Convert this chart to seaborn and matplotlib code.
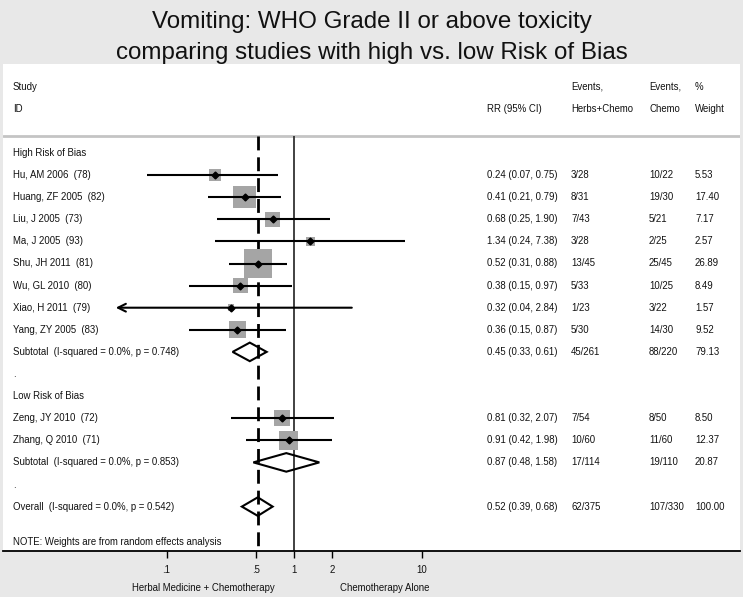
import matplotlib
matplotlib.use("Agg")
import matplotlib.pyplot as plt
from matplotlib.patches import Polygon, FancyArrowPatch
import seaborn as sns
import numpy as np
import pandas as pd

# study-level data
studies = ["Hu, AM 2006  (78)", "Huang, ZF 2005  (82)", "Liu, J 2005  (73)", "Ma, J 2005  (93)",
           "Shu, JH 2011  (81)", "Wu, GL 2010  (80)", "Xiao, H 2011  (79)", "Yang, ZY 2005  (83)",
           "Zeng, JY 2010  (72)", "Zhang, Q 2010  (71)"]
groups = ["High"] * 8 + ["Low"] * 2
rr = [0.24, 0.41, 0.68, 1.34, 0.52, 0.38, 0.32, 0.36, 0.81, 0.91]
rr_lo = [0.07, 0.21, 0.25, 0.24, 0.31, 0.15, 0.04, 0.15, 0.32, 0.42]
rr_hi = [0.75, 0.79, 1.90, 7.38, 0.88, 0.97, 2.84, 0.87, 2.07, 1.98]
events_herb = ["3/28", "8/31", "7/43", "3/28", "13/45", "5/33", "1/23", "5/30", "7/54", "10/60"]
events_chemo = ["10/22", "19/30", "5/21", "2/25", "25/45", "10/25", "3/22", "14/30", "8/50", "11/60"]
weights = [5.53, 17.40, 7.17, 2.57, 26.89, 8.49, 1.57, 9.52, 8.50, 12.37]

# pooled estimates
pooled_labels = ["Subtotal  (I-squared = 0.0%, p = 0.748)",
                 "Subtotal  (I-squared = 0.0%, p = 0.853)",
                 "Overall  (I-squared = 0.0%, p = 0.542)"]
pooled_rr = [0.45, 0.87, 0.52]
pooled_lo = [0.33, 0.48, 0.39]
pooled_hi = [0.61, 1.58, 0.68]
pooled_herb = ["45/261", "17/114", "62/375"]
pooled_chemo = ["88/220", "19/110", "107/330"]
pooled_weight = [79.13, 20.87, 100.00]

group_titles = {"High": "High Risk of Bias", "Low": "Low Risk of Bias"}
xticks = [0.1, 0.5, 1, 2, 10]
xticklabels = [".1", ".5", "1", "2", "10"]

sns.set_theme(style="white")
plt.rcParams['font.family'] = ['Liberation Sans', 'DejaVu Sans']

BG = "#e8e8e8"
W, H = 743, 597
fig = plt.figure(figsize=(W / 100, H / 100), dpi=100, facecolor=BG)

# plot region in pixels
left_px, right_px, top_px, bot_px = 3, 740, 64, 551
ax = fig.add_axes([left_px / W, (H - bot_px) / H, (right_px - left_px) / W, (bot_px - top_px) / H])
ax.set_facecolor("white")

# log axis: 1 sits at x=294px, one decade = 127.5px
def px2x(px):
    return 10 ** ((px - 294) / 127.5)

row0_px, row_step = 153, 22.1
def px2row(py):
    return (py - row0_px) / row_step

ax.set_xscale("log")
ax.set_xlim(px2x(left_px), px2x(right_px))
ax.set_ylim(px2row(bot_px), px2row(top_px))

# build row layout
study_rows = []
pooled_rows = []
text_rows = []
r = 0
for g in ["High", "Low"]:
    text_rows.append((r, group_titles[g]))
    r += 1
    for gg in groups:
        if gg == g:
            study_rows.append(r)
            r += 1
    pooled_rows.append(r)
    r += 1
    text_rows.append((r, "."))
    r += 1
pooled_rows.append(r)

df = pd.DataFrame({"study": studies, "rr": rr, "lo": rr_lo, "hi": rr_hi,
                   "weight": weights, "row": study_rows})

fs = 6.9
tc = "#111111"
col_rr, col_herb, col_chemo, col_w, col_id = px2x(487), px2x(571), px2x(649), px2x(695), px2x(13)

def cell(x, y, s):
    ax.text(x, y, s, fontsize=fs, va="center", color=tc)

# header
header_line = px2row(136)
ax.axhline(header_line, color="#c4c4c4", lw=2)
cell(col_id, -3, "Study")
cell(col_id, -2, "ID")
cell(col_rr, -2, "RR (95% CI)")
cell(col_herb, -3, "Events,")
cell(col_herb, -2, "Herbs+Chemo")
cell(col_chemo, -3, "Events,")
cell(col_chemo, -2, "Chemo")
cell(col_w, -3, "%")
cell(col_w, -2, "Weight")

# reference lines
ax.vlines(1, header_line, px2row(bot_px), color="#333333", lw=1.3)
ax.vlines(pooled_rr[2], header_line, px2row(bot_px), color="black", lw=2,
          linestyles=(0, (5, 2.5)))

# weight boxes
wmin, wmax = min(weights), max(weights)
k = 15.2
sns.scatterplot(data=df, x="rr", y="row", size="weight", sizes=(k * wmin, k * wmax),
                marker="s", color="#a5a5a5", linewidth=0, legend=False, ax=ax, zorder=2)

# confidence intervals
for _, d in df.iterrows():
    if d["study"].startswith("Xiao"):
        ax.add_patch(FancyArrowPatch((d["hi"], d["row"]), (d["lo"], d["row"]),
                                     arrowstyle="->", lw=1.5, color="black",
                                     mutation_scale=14, shrinkA=0, shrinkB=0, zorder=3))
    else:
        ax.hlines(d["row"], d["lo"], d["hi"], color="black", lw=1.5, zorder=3)
    ax.plot(d["rr"], d["row"], marker="D", ms=3.5, color="black", zorder=4)
    cell(col_id, d["row"], d["study"])
    cell(col_rr, d["row"], f"{d['rr']:.2f} ({d['lo']:.2f}, {d['hi']:.2f})")
    cell(col_w, d["row"], f"{d['weight']:.2f}")
for i, row in enumerate(study_rows):
    cell(col_herb, row, events_herb[i])
    cell(col_chemo, row, events_chemo[i])

# pooled diamonds
hh = 0.42
for i, row in enumerate(pooled_rows):
    est, lo, hi = pooled_rr[i], pooled_lo[i], pooled_hi[i]
    ax.add_patch(Polygon([(lo, row), (est, row - hh), (hi, row), (est, row + hh)],
                         closed=True, fill=False, edgecolor="black", lw=1.5, zorder=4))
    cell(col_id, row, pooled_labels[i])
    cell(col_rr, row, f"{est:.2f} ({lo:.2f}, {hi:.2f})")
    cell(col_herb, row, pooled_herb[i])
    cell(col_chemo, row, pooled_chemo[i])
    cell(col_w, row, f"{pooled_weight[i]:.2f}")

for row, label in text_rows:
    cell(col_id, row, label)

cell(col_id, px2row(542), "NOTE: Weights are from random effects analysis")

# axis
for s in ["top", "left", "right"]:
    ax.spines[s].set_visible(False)
ax.spines["bottom"].set_color("black")
ax.spines["bottom"].set_linewidth(1.3)
ax.set_xticks(xticks)
ax.set_xticklabels(xticklabels)
ax.xaxis.set_minor_locator(matplotlib.ticker.NullLocator())
ax.tick_params(axis="x", direction="out", length=5, width=1, color="black",
               labelsize=fs, labelcolor=tc, pad=5, bottom=True)
ax.set_yticks([])
ax.set_xlabel("")
ax.set_ylabel("")

fig.text(203 / W, 1 - 588 / H, "Herbal Medicine + Chemotherapy", fontsize=fs, color=tc, ha="center", va="center")
fig.text(385 / W, 1 - 588 / H, "Chemotherapy Alone", fontsize=fs, color=tc, ha="center", va="center")

fig.text(0.5, 1 - 22 / H, "Vomiting: WHO Grade II or above toxicity", fontsize=17.4, color=tc, ha="center", va="center")
fig.text(0.5, 1 - 53 / H, "comparing studies with high vs. low Risk of Bias", fontsize=17.4, color=tc, ha="center", va="center")

fig.savefig("out.png", dpi=100, facecolor=BG)
